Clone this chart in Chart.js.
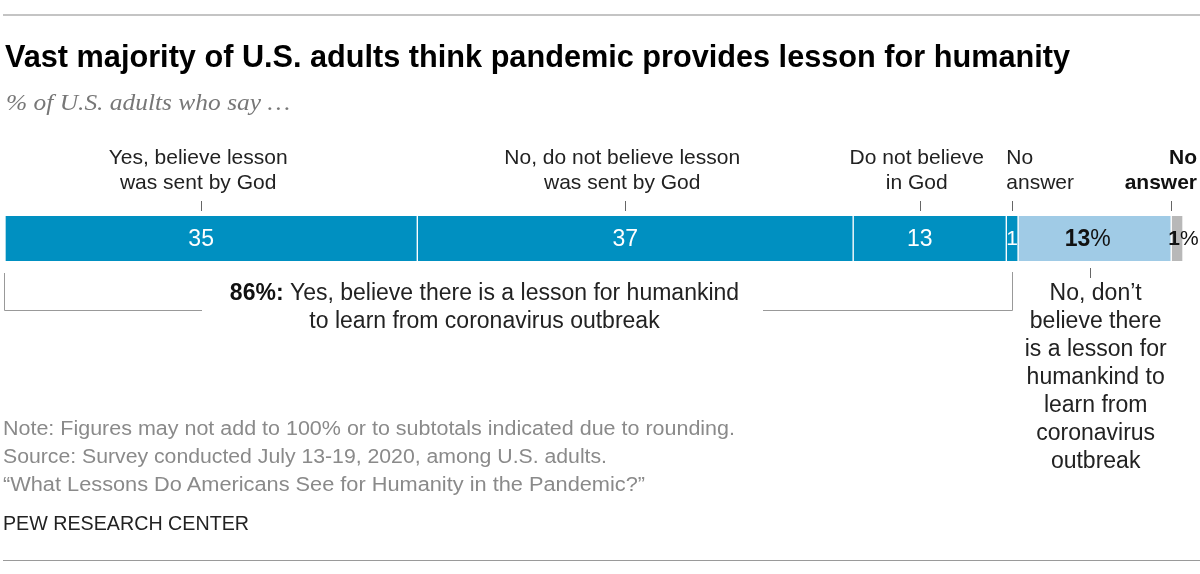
<!DOCTYPE html>
<html>
<head>
<meta charset="utf-8">
<script src="https://cdn.jsdelivr.net/npm/chart.js@4"></script>
<style>
  html, body { margin:0; padding:0; background:#fff; }
  #wrap { position:relative; width:1200px; height:574px; overflow:hidden; }
  canvas { position:absolute; left:0; top:0; }
  .t { position:absolute; white-space:nowrap; transform-origin:0 50%; }
  .rule { position:absolute; }
</style>
</head>
<body>
<div id="wrap">
  <canvas id="c" width="1200" height="574"></canvas>
  <div class="rule" style="left:3px;top:14px;width:1197px;height:2px;background:#c4c4c4;"></div>
  <div class="t" data-w="1065" style="left:5px;top:40px;font:bold 31px 'Liberation Sans Narrow','Liberation Sans',sans-serif;line-height:34px;color:#000;">Vast majority of U.S. adults think pandemic provides lesson for humanity</div>
  <div class="t" data-w="284" style="left:6px;top:89px;font:italic 23px 'Liberation Serif','DejaVu Serif',serif;line-height:28px;color:#777;">% of U.S. adults who say …</div>
  <div class="t" data-w="732" style="left:3px;top:415px;font:20px 'Liberation Sans Narrow','Liberation Sans',sans-serif;line-height:26px;color:#8a8a8a;">Note: Figures may not add to 100% or to subtotals indicated due to rounding.</div>
  <div class="t" data-w="604" style="left:3px;top:443px;font:20px 'Liberation Sans Narrow','Liberation Sans',sans-serif;line-height:26px;color:#8a8a8a;">Source: Survey conducted July 13-19, 2020, among U.S. adults.</div>
  <div class="t" data-w="642" style="left:3px;top:471px;font:20px 'Liberation Sans Narrow','Liberation Sans',sans-serif;line-height:26px;color:#8a8a8a;">“What Lessons Do Americans See for Humanity in the Pandemic?”</div>
  <div class="t" data-w="246" style="left:3px;top:510px;font:20px 'Liberation Sans Narrow','Liberation Sans',sans-serif;line-height:26px;color:#222;">PEW RESEARCH CENTER</div>
  <div class="rule" style="left:3px;top:560px;width:1197px;height:1px;background:#9a9a9a;"></div>
</div>
<script>
// ---- data ----
const categories = [
  'Yes, believe lesson was sent by God',
  'No, do not believe lesson was sent by God',
  'Do not believe in God',
  'No answer',
  'No, don’t believe there is a lesson for humankind to learn from coronavirus outbreak',
  'No answer'
];
const values = [35, 37, 13, 1, 13, 1];
const valueLabels = ['35', '37', '13', '1', '13%', '1%'];
const topLabels = [
  ['Yes, believe lesson', 'was sent by God'],
  ['No, do not believe lesson', 'was sent by God'],
  ['Do not believe', 'in God'],
  ['No', 'answer'],
  null,
  ['No', 'answer']
];
const yesTotal = 86;
const yesLines = ['Yes, believe there is a lesson for humankind', 'to learn from coronavirus outbreak'];
const noLines = ['No, don’t', 'believe there', 'is a lesson for', 'humankind to', 'learn from', 'coronavirus', 'outbreak'];
const colors = ['#0090c1', '#0090c1', '#0090c1', '#0090c1', '#a0cbe6', '#b8b8b8'];

// ---- fit HTML text widths ----
document.querySelectorAll('.t[data-w]').forEach(el => {
  const w = el.getBoundingClientRect().width;
  const target = +el.dataset.w;
  if (w > 0) el.style.transform = 'scaleX(' + (target / w) + ')';
});

const FONT = "'Liberation Sans', Arial, sans-serif";
const SHIFT = -10; // label anchor nudge for the wide segments

const annot = {
  id: 'annot',
  afterDatasetsDraw(chart) {
    const ctx = chart.ctx;
    const metas = values.map((v, i) => chart.getDatasetMeta(i).data[0]);
    const seg = metas.map(el => ({ x0: Math.min(el.base, el.x), x1: Math.max(el.base, el.x), y: el.y, h: el.height }));
    const top = seg[0].y - seg[0].h / 2, bot = seg[0].y + seg[0].h / 2;
    ctx.save();
    ctx.textBaseline = 'middle';
    // value labels
    seg.forEach((s, i) => {
      let cx = (s.x0 + s.x1) / 2;
      if (i < 3) cx += SHIFT;
      if (i < 4) {
        ctx.fillStyle = '#fff';
        ctx.font = (i < 3 ? '23px ' : '21px ') + FONT;
        ctx.textAlign = 'center';
        ctx.fillText(valueLabels[i], cx, s.y + 1);
      } else {
        const lbl = valueLabels[i];
        const num = lbl.replace('%', '');
        const fs = i === 4 ? 23 : 21;
        ctx.font = 'bold ' + fs + 'px ' + FONT;
        const wn = ctx.measureText(num).width;
        ctx.font = fs + 'px ' + FONT;
        const wp = ctx.measureText('%').width;
        const start = i === 4 ? cx - 7 - (wn + wp) / 2 : s.x0 - 3;
        ctx.fillStyle = '#111';
        ctx.textAlign = 'left';
        ctx.font = 'bold ' + fs + 'px ' + FONT;
        ctx.fillText(num, start, s.y + 1);
        ctx.font = fs + 'px ' + FONT;
        ctx.fillText('%', start + wn, s.y + 1);
      }
    });
    // top labels + ticks
    ctx.strokeStyle = '#666';
    ctx.lineWidth = 1;
    seg.forEach((s, i) => {
      const lines = topLabels[i];
      if (!lines) return;
      const cx = (s.x0 + s.x1) / 2;
      let tx;
      if (i < 3) {
        tx = cx + SHIFT;
        ctx.font = '21px ' + FONT; ctx.fillStyle = '#222'; ctx.textAlign = 'center';
        lines.forEach((l, k) => ctx.fillText(l, tx - 3, 158 + k * 25));
      } else if (i === 3) {
        tx = cx;
        ctx.font = '21px ' + FONT; ctx.fillStyle = '#222'; ctx.textAlign = 'left';
        lines.forEach((l, k) => ctx.fillText(l, s.x0, 158 + k * 25));
      } else {
        tx = s.x0;
        ctx.font = 'bold 21px ' + FONT; ctx.fillStyle = '#111'; ctx.textAlign = 'right';
        lines.forEach((l, k) => ctx.fillText(l, 1197, 158 + k * 25));
      }
      ctx.beginPath();
      ctx.moveTo(Math.round(tx) + 0.5, top - 15);
      ctx.lineTo(Math.round(tx) + 0.5, top - 5);
      ctx.stroke();
    });
    // bracket for yes total
    const bx0 = seg[0].x0 - 1;
    const bx1 = (seg[3].x0 + seg[3].x1) / 2;
    const by = 310;
    const gapL = 202, gapR = 763;
    ctx.strokeStyle = '#999';
    ctx.beginPath();
    ctx.moveTo(Math.round(bx0) + 0.5, bot + 12);
    ctx.lineTo(Math.round(bx0) + 0.5, by + 0.5);
    ctx.lineTo(gapL, by + 0.5);
    ctx.moveTo(gapR, by + 0.5);
    ctx.lineTo(Math.round(bx1) + 0.5, by + 0.5);
    ctx.lineTo(Math.round(bx1) + 0.5, bot + 11);
    ctx.stroke();
    const tcx = (gapL + gapR) / 2 + 2;
    const BF = 23;
    const pre = yesTotal + '%: ';
    ctx.font = 'bold ' + BF + 'px ' + FONT;
    const wpre = ctx.measureText(pre).width;
    ctx.font = BF + 'px ' + FONT;
    const wrest = ctx.measureText(yesLines[0]).width;
    const l1 = tcx - (wpre + wrest) / 2;
    ctx.textAlign = 'left';
    ctx.fillStyle = '#111';
    ctx.font = 'bold ' + BF + 'px ' + FONT;
    ctx.fillText(pre, l1, 294);
    ctx.font = BF + 'px ' + FONT;
    ctx.fillStyle = '#222';
    ctx.fillText(yesLines[0], l1 + wpre, 294);
    ctx.textAlign = 'center';
    ctx.fillText(yesLines[1], tcx, 322);
    // no lesson annotation
    const nx = (seg[4].x0 + seg[4].x1) / 2 - 5;
    ctx.strokeStyle = '#666';
    ctx.beginPath();
    ctx.moveTo(Math.round(nx) + 0.5, bot + 7);
    ctx.lineTo(Math.round(nx) + 0.5, bot + 17);
    ctx.stroke();
    ctx.fillStyle = '#222';
    ctx.textAlign = 'center';
    noLines.forEach((l, k) => ctx.fillText(l, nx + 6, 294 + k * 28));
    ctx.restore();
  }
};

new Chart(document.getElementById('c'), {
  type: 'bar',
  data: {
    labels: [''],
    datasets: values.map((v, i) => ({
      label: categories[i],
      data: [v],
      backgroundColor: colors[i],
      borderColor: '#ffffff',
      borderWidth: { left: 1, right: 1, top: 0, bottom: 0 },
      borderSkipped: false,
      barPercentage: 1,
      categoryPercentage: 1
    }))
  },
  options: {
    indexAxis: 'y',
    responsive: false,
    animation: false,
    devicePixelRatio: 1,
    layout: { padding: { left: 5, right: 17, top: 216, bottom: 313 } },
    scales: {
      x: { stacked: true, min: 0, max: 100, display: false },
      y: { stacked: true, display: false }
    },
    plugins: { legend: { display: false }, tooltip: { enabled: false }, title: { display: false } }
  },
  plugins: [annot]
});
</script>
</body>
</html>
